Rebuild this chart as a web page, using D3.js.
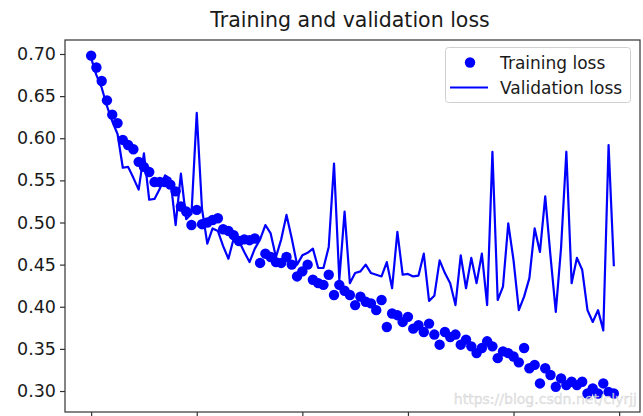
<!DOCTYPE html>
<html>
<head>
<meta charset="utf-8">
<script src="https://cdn.jsdelivr.net/npm/d3@7"></script>
<style>
  html, body { margin: 0; padding: 0; background: #fff; overflow: hidden; }
  svg { display: block; }
  text { font-family: "DejaVu Sans", sans-serif; }
</style>
</head>
<body>
<svg id="chart" width="643" height="416"></svg>
<script>
// ---- data ----
const trainingLoss = [
  0.698, 0.684, 0.668, 0.645, 0.628, 0.618, 0.598, 0.592, 0.587, 0.572,
  0.566, 0.560, 0.548, 0.548, 0.548, 0.545, 0.537, 0.519, 0.513, 0.497,
  0.515, 0.498, 0.500, 0.503, 0.505, 0.492, 0.490, 0.485, 0.478, 0.480,
  0.479, 0.481, 0.452, 0.463, 0.459, 0.453, 0.452, 0.459, 0.450, 0.436,
  0.442, 0.450, 0.432, 0.428, 0.426, 0.438, 0.414, 0.426, 0.419, 0.414,
  0.402, 0.412, 0.406, 0.404, 0.396, 0.408, 0.376, 0.392, 0.390, 0.382,
  0.388, 0.374, 0.378, 0.370, 0.380, 0.367, 0.355, 0.370, 0.364, 0.367,
  0.355, 0.361, 0.353, 0.345, 0.351, 0.359, 0.353, 0.339, 0.347, 0.345,
  0.341, 0.334, 0.351, 0.327, 0.331, 0.309, 0.327, 0.319, 0.305, 0.315,
  0.307, 0.311, 0.307, 0.311, 0.297, 0.303, 0.297, 0.309, 0.299, 0.297
];
const validationLoss = [
  0.695, 0.675, 0.660, 0.638, 0.620, 0.605, 0.565, 0.566, 0.553, 0.539,
  0.582, 0.527, 0.528, 0.540, 0.556, 0.552, 0.497, 0.558, 0.504, 0.510,
  0.630, 0.516, 0.475, 0.493, 0.490, 0.472, 0.457, 0.481, 0.478, 0.465,
  0.453, 0.469, 0.480, 0.497, 0.487, 0.459, 0.480, 0.509, 0.481, 0.450,
  0.461, 0.464, 0.469, 0.446, 0.446, 0.471, 0.570, 0.432, 0.513, 0.428,
  0.440, 0.442, 0.450, 0.440, 0.438, 0.436, 0.453, 0.422, 0.489, 0.438,
  0.439, 0.436, 0.437, 0.463, 0.407, 0.413, 0.455, 0.440, 0.428, 0.402,
  0.461, 0.422, 0.458, 0.428, 0.463, 0.402, 0.584, 0.408, 0.424, 0.499,
  0.455, 0.396, 0.412, 0.434, 0.493, 0.465, 0.531, 0.460, 0.394, 0.470,
  0.584, 0.428, 0.458, 0.444, 0.396, 0.382, 0.396, 0.372, 0.592, 0.448
];
const epochs = d3.range(trainingLoss.length);
const xTicks = [0, 20, 40, 60, 80, 100];
const yTicks = [0.30, 0.35, 0.40, 0.45, 0.50, 0.55, 0.60, 0.65, 0.70];
const xLimits = [-4.95, 103.95];
const yLimits = [0.2751, 0.7166];
const titleText = "Training and validation loss";
const seriesNames = ["Training loss", "Validation loss"];
const watermark = "https://blog.csdn.net/clyrjj";

// ---- layout ----
const plot = { left: 65, right: 640, top: 40, bottom: 412 };
const svg = d3.select("#chart");

const x = d3.scaleLinear().domain(xLimits).range([plot.left, plot.right]);
const y = d3.scaleLinear().domain(yLimits).range([plot.bottom, plot.top]);

svg.append("defs").append("clipPath").attr("id", "clip")
  .append("rect").attr("x", plot.left).attr("y", plot.top)
  .attr("width", plot.right - plot.left).attr("height", plot.bottom - plot.top);

const g = svg.append("g").attr("clip-path", "url(#clip)");

// training loss dots
g.selectAll("circle.train").data(trainingLoss).enter().append("circle")
  .attr("class", "train")
  .attr("cx", (d, i) => x(epochs[i]))
  .attr("cy", d => y(d))
  .attr("r", 5.2)
  .attr("fill", "#0000ff");

// validation loss line
const line = d3.line().x((d, i) => x(epochs[i])).y(d => y(d));
g.append("path").datum(validationLoss)
  .attr("d", line)
  .attr("fill", "none")
  .attr("stroke", "#0000ff")
  .attr("stroke-width", 2.2)
  .attr("stroke-linejoin", "round");

// axes
const yAxis = d3.axisLeft(y).tickValues(yTicks).tickFormat(d3.format(".2f")).tickSize(5).tickPadding(4);
const xAxis = d3.axisBottom(x).tickValues(xTicks).tickFormat("").tickSize(5);

const gy = svg.append("g").attr("transform", `translate(${plot.left},0)`).call(yAxis);
gy.select(".domain").remove();
gy.selectAll("text").attr("font-size", 17.5).attr("fill", "#1a1a1a").attr("font-family", "DejaVu Sans");
gy.selectAll("line").attr("stroke", "#333").attr("stroke-width", 1.2);

const gx = svg.append("g").attr("transform", `translate(0,${plot.bottom})`).call(xAxis);
gx.select(".domain").remove();
gx.selectAll("line").attr("stroke", "#333").attr("stroke-width", 1.2);

// frame
svg.append("rect")
  .attr("x", plot.left).attr("y", plot.top)
  .attr("width", plot.right - plot.left).attr("height", plot.bottom - plot.top)
  .attr("fill", "none").attr("stroke", "#333").attr("stroke-width", 1.2);

// title
svg.append("text")
  .attr("x", 350).attr("y", 27)
  .attr("text-anchor", "middle").attr("font-size", 20.5).attr("fill", "#1a1a1a")
  .text(titleText);

// legend
const lg = svg.append("g");
lg.append("rect").attr("x", 445.5).attr("y", 47.5).attr("width", 185).attr("height", 55)
  .attr("rx", 3).attr("fill", "#fff").attr("fill-opacity", 0.8)
  .attr("stroke", "#d0d0d0").attr("stroke-width", 1);
lg.append("circle").attr("cx", 470).attr("cy", 62.5).attr("r", 5.2).attr("fill", "#0000ff");
lg.append("line").attr("x1", 450).attr("x2", 488).attr("y1", 87.5).attr("y2", 87.5)
  .attr("stroke", "#0000ff").attr("stroke-width", 2.2);
lg.append("text").attr("x", 500).attr("y", 69).attr("font-size", 17).attr("fill", "#1a1a1a").text(seriesNames[0]);
lg.append("text").attr("x", 500).attr("y", 94).attr("font-size", 17).attr("fill", "#1a1a1a").text(seriesNames[1]);

// watermark
svg.append("text")
  .attr("x", 637).attr("y", 404).attr("text-anchor", "end")
  .attr("font-size", 14).attr("font-family", "Liberation Sans, Arial, sans-serif")
  .attr("fill", "#e6e6e6").attr("fill-opacity", 0.85)
  .attr("stroke", "#bbbbbb").attr("stroke-width", 0.4).attr("stroke-opacity", 0.6)
  .text(watermark);
</script>
</body>
</html>
